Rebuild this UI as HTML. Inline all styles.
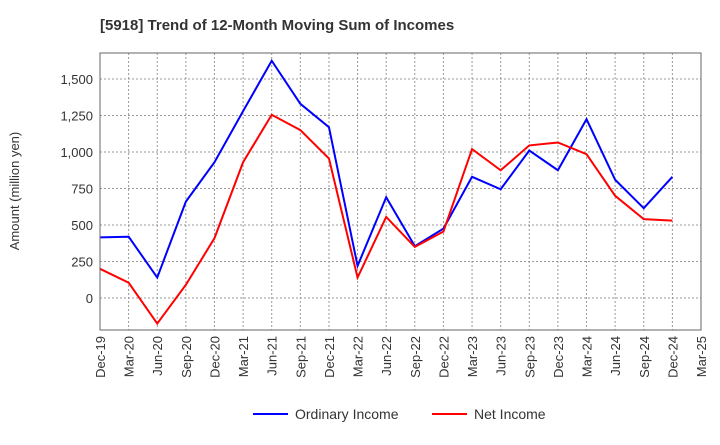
<!DOCTYPE html>
<html><head><meta charset="utf-8"><style>
body{margin:0;background:#fff;font-family:"Liberation Sans",sans-serif}
</style></head><body>
<svg id="c" width="720" height="440" xmlns="http://www.w3.org/2000/svg">
<text x="100" y="30" font-size="15" font-weight="bold" fill="#333">[5918]  Trend of 12-Month Moving Sum of Incomes</text>
<text transform="translate(19,191) rotate(-90)" text-anchor="middle" font-size="13" fill="#333">Amount (million yen)</text>
<g id="grid"></g><g id="ticks"></g><g id="lines"></g>
<rect x="100" y="53" width="601" height="277" fill="none" stroke="#666"/>
<g>
<line x1="253" y1="414" x2="288" y2="414" stroke="#0000ff" stroke-width="2"/>
<text x="295" y="419" font-size="14" fill="#333">Ordinary Income</text>
<line x1="432" y1="414" x2="467" y2="414" stroke="#ff0000" stroke-width="2"/>
<text x="474" y="419" font-size="14" fill="#333">Net Income</text>
</g>
</svg>
<script>
const categories=["Dec-19","Mar-20","Jun-20","Sep-20","Dec-20","Mar-21","Jun-21","Sep-21","Dec-21","Mar-22","Jun-22","Sep-22","Dec-22","Mar-23","Jun-23","Sep-23","Dec-23","Mar-24","Jun-24","Sep-24","Dec-24","Mar-25"];
const ordinaryIncome=[415,420,140,660,930,1280,1625,1330,1170,220,690,355,475,830,745,1010,875,1225,810,615,830];
const netIncome=[200,105,-175,90,410,930,1255,1150,955,140,555,350,455,1020,875,1045,1065,985,700,540,530];
const yTicks=[0,250,500,750,1000,1250,1500];
const yLabels=["0","250","500","750","1,000","1,250","1,500"];
const NS="http://www.w3.org/2000/svg";
const x=i=>100+i*(601/(categories.length-1));
const y=v=>298-v*(36.5/250);
function mk(t,a,p){const e=document.createElementNS(NS,t);for(const k in a)e.setAttribute(k,a[k]);p.appendChild(e);return e;}
const g=document.getElementById('grid'),tk=document.getElementById('ticks'),ln=document.getElementById('lines');
yTicks.forEach((v,i)=>{
 const l=mk('line',{x1:100,x2:701,y1:y(v),y2:y(v),stroke:'#999','stroke-dasharray':'2,2'},g);
 
 
 const t=mk('text',{x:93,y:y(v)+5,'text-anchor':'end','font-size':13,fill:'#333'},tk);
 t.textContent=yLabels[i];
 
 
});
categories.forEach((c,i)=>{
 const l=mk('line',{x1:x(i),x2:x(i),y1:53,y2:330,stroke:'#999','stroke-dasharray':'2,2'},g);
 
 
 const t=mk('text',{transform:`translate(${x(i)+5},336) rotate(-90)`,'text-anchor':'end','font-size':13,fill:'#333'},tk);
 t.textContent=c;
 
 
});
function line(d,col,name){
 const p=mk('polyline',{points:d.map((v,i)=>x(i)+','+y(v)).join(' '),fill:'none',stroke:col,'stroke-width':2},ln);
 
 
}
line(ordinaryIncome,'#0000ff','ordinary-income-line');
line(netIncome,'#ff0000','net-income-line');
</script>
</body></html>
